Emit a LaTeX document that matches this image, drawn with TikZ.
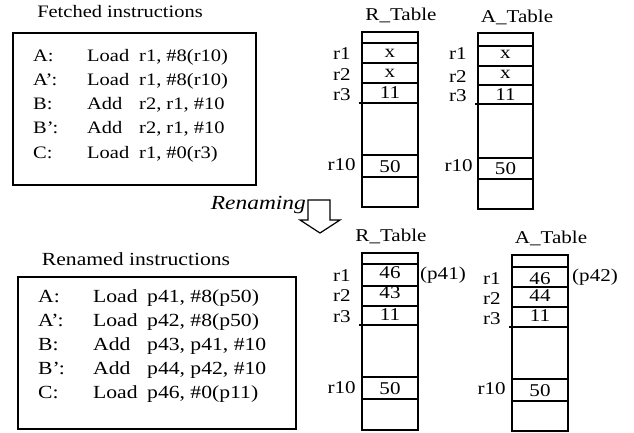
\documentclass[tikz,border=0pt]{standalone}
\usepackage{fontspec}
\setmainfont[FakeStretch=1.17]{Liberation Serif}
\newcommand{\fetchline}[3]{\makebox[54pt][l]{#1}\makebox[52pt][l]{#2}#3}
\newcommand{\renline}[3]{\makebox[55pt][l]{#1}\makebox[54pt][l]{#2}#3}
\begin{document}
\begin{tikzpicture}[x=1pt,y=-1pt,
    insbox/.style={line width=1.6pt},
    tbl/.style={line width=1.5pt},
    ttl/.style={anchor=base,inner sep=0pt,font=\fontsize{18}{21}\selectfont},
    ins/.style={anchor=base west,inner sep=0pt,font=\fontsize{17.5}{21}\selectfont},
    ins2/.style={anchor=base west,inner sep=0pt,font=\fontsize{18.5}{22}\selectfont},
    reg/.style={anchor=west,inner sep=0pt,font=\fontsize{18}{21}\selectfont},
    val/.style={inner sep=0pt,font=\fontsize{18}{21}\selectfont}]
    \useasboundingbox (0,0) rectangle (634,432);

    % fetched instructions
    \node[ins,anchor=base] (ftitle) at (120,17) {Fetched instructions};
    \draw[insbox] (13,33) rectangle (256,185);
    \node[ins] (fa) at (33,61.5) {\fetchline{A:}{Load}{r1, \#8(r10)}};
    \node[ins] (fa2) at (33,85.5) {\fetchline{A'\kern-1pt:}{Load}{r1, \#8(r10)}};
    \node[ins] (fb) at (33,109.5) {\fetchline{B:}{Add}{r2, r1, \#10}};
    \node[ins] (fb2) at (33,133.5) {\fetchline{B'\kern-1pt:}{Add}{r2, r1, \#10}};
    \node[ins] (fc) at (33,158) {\fetchline{C:}{Load}{r1, \#0(r3)}};

    % renamed instructions
    \node[ins2,anchor=base] (ntitle) at (136,265) {Renamed instructions};
    \draw[insbox] (18,277) rectangle (296,429);
    \node[ins2] (na) at (38,302) {\renline{A:}{Load}{p41, \#8(p50)}};
    \node[ins2] (na2) at (38,326) {\renline{A'\kern-1pt:}{Load}{p42, \#8(p50)}};
    \node[ins2] (nb) at (38,350) {\renline{B:}{Add}{p43, p41, \#10}};
    \node[ins2] (nb2) at (38,374) {\renline{B'\kern-1pt:}{Add}{p44, p42, \#10}};
    \node[ins2] (nc) at (38,398.5) {\renline{C:}{Load}{p46, \#0(p11)}};

    % renaming arrow
    \node[anchor=base east,inner sep=0pt,font=\fontsize{20}{24}\selectfont\itshape] (renam) at (306,209) {Renaming};
    \draw[line width=1.2pt,line join=miter] (308,200) -- (330,200) -- (330,220) -- (340,220)
        -- (320,233) -- (300,220) -- (308,220) -- cycle;

    % R_Table before renaming
    \node[ttl] (rtab1) at (401,20.5) {R\_Table};
    \draw[tbl] (362,32) rectangle (418,207);
    \draw[tbl] (362,43) -- (418,43) (362,63) -- (418,63) (362,83) -- (418,83)
        (359,103) -- (418,103) (362,155) -- (418,155) (362,177) -- (418,177);
    \node[reg] (rr1) at (333,53.7) {r1};
    \node[reg] (rr2) at (333,75) {r2};
    \node[reg] (rr3) at (333,94.7) {r3};
    \node[reg] (rr10) at (327.5,165) {r10};
    \node[val] (rv1) at (390,53.5) {x};
    \node[val] (rv2) at (390,73.3) {x};
    \node[val] (rv3) at (390,92.7) {11};
    \node[val] (rv10) at (390,166.7) {50};

    % A_Table before renaming
    \node[ttl] (atab1) at (517,22) {A\_Table};
    \draw[tbl] (478,33) rectangle (533,209);
    \draw[tbl] (478,46) -- (533,46) (478,66) -- (533,66) (478,85) -- (533,85)
        (475,104) -- (533,104) (478,158) -- (533,158) (478,179) -- (533,179);
    \node[reg] (ar1) at (449,54) {r1};
    \node[reg] (ar2) at (449,77) {r2};
    \node[reg] (ar3) at (449,96) {r3};
    \node[reg] (ar10) at (444.5,166) {r10};
    \node[val] (av1) at (505.5,54.7) {x};
    \node[val] (av2) at (505.5,74.3) {x};
    \node[val] (av3) at (505.5,94.7) {11};
    \node[val] (av10) at (505.5,168.7) {50};

    % R_Table after renaming
    \node[ttl] (rtab2) at (391,241) {R\_Table};
    \draw[tbl] (362,253) rectangle (418,430);
    \draw[tbl] (362,264) -- (418,264) (362,286) -- (418,286) (362,306) -- (418,306)
        (359,325) -- (418,325) (362,377) -- (418,377) (362,399) -- (418,399);
    \node[reg] (rs1) at (333,276) {r1};
    \node[reg] (rs2) at (333,295.7) {r2};
    \node[reg] (rs3) at (333,316.7) {r3};
    \node[reg] (rs10) at (327.5,387.5) {r10};
    \node[val] (rw1) at (390,273) {46};
    \node[val] (rw2) at (390,292.3) {43};
    \node[val] (rw3) at (390,315) {11};
    \node[val] (rw10) at (390,388.3) {50};
    \node[reg,anchor=base west] (rp) at (420,279) {(p41)};

    % A_Table after renaming
    \node[ttl] (atab2) at (551,243) {A\_Table};
    \draw[tbl] (512,255) rectangle (568,431);
    \draw[tbl] (512,267) -- (568,267) (512,287) -- (568,287) (512,307) -- (568,307)
        (509,327) -- (568,327) (512,379) -- (568,379) (512,401) -- (568,401);
    \node[reg] (as1) at (483,278.3) {r1};
    \node[reg] (as2) at (483,298.3) {r2};
    \node[reg] (as3) at (483,318.3) {r3};
    \node[reg] (as10) at (477.5,388.3) {r10};
    \node[val] (aw1) at (540,278.3) {46};
    \node[val] (aw2) at (540,295.3) {44};
    \node[val] (aw3) at (540,316) {11};
    \node[val] (aw10) at (540,390.5) {50};
    \node[reg,anchor=base west] (ap) at (572,281) {(p42)};
\end{tikzpicture}
\end{document}
